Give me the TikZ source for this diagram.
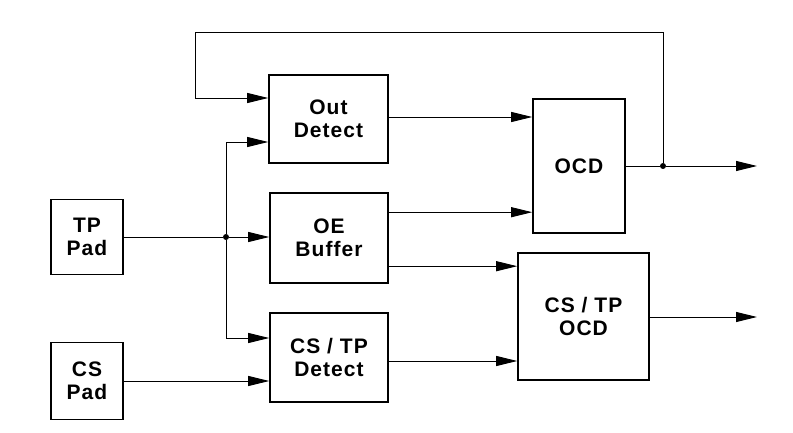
\documentclass[tikz,border=0pt]{standalone}
\usepackage{fontspec}
\setmainfont{Liberation Sans}[LetterSpace=5]
\usetikzlibrary{arrows.meta,calc}
\begin{document}
\begin{tikzpicture}[x=1pt,y=-1pt,
  blk/.style={draw,line width=1.6pt,align=center,inner sep=0pt,
    font=\fontsize{21}{23}\selectfont\bfseries},
  con/.style={line width=0.9pt},
  arr/.style={con,-{Triangle[length=21pt,width=10pt]}},
  dot/.style={circle,fill,inner sep=0pt,minimum size=6pt}]
\useasboundingbox (0,0) rectangle (793,433);
\node[blk,minimum width=119pt,minimum height=88pt] (outdet) at (328.5,119) {Out\\Detect};
\node[blk,minimum width=118pt,minimum height=90pt] (oebuf) at (329,238) {OE\\Buffer};
\node[blk,minimum width=118pt,minimum height=89pt] (csdet) at (329,357.5) {CS / TP\\Detect};
\node[blk,minimum width=72pt,minimum height=75pt] (tppad) at (87,237) {TP\\Pad};
\node[blk,minimum width=72pt,minimum height=77pt] (cspad) at (87,381) {CS\\Pad};
\node[blk,minimum width=92pt,minimum height=134pt] (ocd) at (579,166) {OCD};
\node[blk,minimum width=131pt,minimum height=127pt] (csocd) at (583.5,316.5) {CS / TP\\OCD};
\node[dot] (j1) at (226,237) {};
\node[dot] (j2) at (663,166) {};
\coordinate (o1) at (757,166);
\coordinate (o2) at (757,317);
\coordinate (fbtr) at (663,32);
\coordinate (fbtl) at (195,32);
\coordinate (a1) at ($(outdet.east)+(0,-2)$);
\coordinate (a2) at ($(oebuf.north east)+(0,20)$);
\coordinate (a3) at ($(oebuf.north east)+(0,74)$);
\coordinate (a4) at ($(csdet.east)+(0,3.5)$);
\coordinate (b1) at ($(outdet.west)+(0,23)$);
\coordinate (b2) at ($(csdet.west)+(0,-19.5)$);
\coordinate (b3) at ($(outdet.west)+(0,-21)$);
% TP pad to OE buffer
\draw[con] (tppad.east) -- (j1);
\draw[arr] (j1) -- (j1 -| oebuf.west);
\draw[arr] (j1) |- (b1);
\draw[arr] (j1) |- (b2);
\draw[arr] (cspad.east) -- (cspad.east -| csdet.west);
% to OCD
\draw[arr] (a1) -- (a1 -| ocd.west);
\draw[arr] (a2) -- (a2 -| ocd.west);
\draw[arr] (a3) -- (a3 -| csocd.west);
\draw[arr] (a4) -- (a4 -| csocd.west);
% outputs
\draw[con] (ocd.east) -- (j2);
\draw[arr] (j2) -- (o1);
\draw[arr] (csocd.east |- o2) -- (o2);
% feedback
\draw[arr] (j2) -- (fbtr) -- (fbtl) |- (b3);
\end{tikzpicture}
\end{document}
